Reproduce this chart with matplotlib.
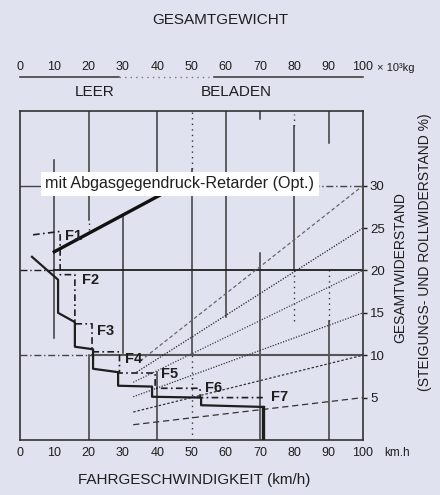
import matplotlib
matplotlib.use("Agg")
import matplotlib.pyplot as plt
import matplotlib.transforms as mtransforms

plt.rcParams['font.family'] = ['Liberation Sans', 'DejaVu Sans']

# axes ticks
speed_ticks = [0, 10, 20, 30, 40, 50, 60, 70, 80, 90, 100]
weight_ticks = [0, 10, 20, 30, 40, 50, 60, 70, 80, 90, 100]
grade_ticks = [5, 10, 15, 20, 25, 30]

# grade resistance lines: start point (v, g) -> end at v=100
grade_end = [30, 25, 20, 15, 10, 5]
grade_start_v = [35, 34, 33, 33, 33, 33]
grade_start_g = [9.3, 8.0, 6.8, 5.1, 3.3, 1.8]

# main tractive curve (solid staircase)
main_v = [3.5, 11.1, 11.1, 16.0, 16.0, 21.3, 21.3, 28.6, 28.6, 38.5, 38.5, 52.8, 52.8, 70.8, 70.8]
main_g = [21.6, 18.9, 15.0, 13.9, 11.0, 10.7, 8.4, 8.0, 6.4, 6.3, 5.1, 5.0, 4.1, 3.9, 0]

# gear shift curve (dash-dot staircase)
shift_v = [3.8, 11.7, 11.7, 16, 16, 21, 21, 29, 29, 39.4, 39.4, 52.5, 52.5, 70.8]
shift_g = [24.2, 24.6, 19.5, 19.5, 13.7, 13.7, 10.4, 10.4, 7.9, 7.9, 6.1, 6.1, 5.0, 5.0]

# retarder line
ret_v = [10, 46]
ret_g = [22.2, 30]

gear_labels = ['F1', 'F2', 'F3', 'F4', 'F5', 'F6', 'F7']
gear_v = [13.1, 18, 22.4, 30.6, 41.1, 54, 73.2]
gear_g = [24.0, 18.9, 12.8, 9.6, 7.8, 6.1, 5.1]

# weight lines (v, g_from, g_to)
solid_verts = [(10, 12, 33), (20, 26, 38.8), (20, 0, 10), (30, 10.3, 26.5),
               (40, 31.5, 38.8), (40, 0, 8), (50, 10, 32), (60, 14.5, 38.8),
               (70, 0, 22), (70, 37.8, 38.8), (80, 20, 37), (90, 0, 14),
               (90, 35, 38.8)]
dotted_verts = [(50, 32, 38.8), (50, 0, 10), (80, 14, 20), (90, 14, 20),
                (20, 24.8, 26), (80, 37, 38.5)]

bg = '#e0e2ef'
ink = '#1e1e1e'

fig = plt.figure(figsize=(4.4, 4.95), dpi=100, facecolor=bg)
ax = fig.add_axes([20/440, 55/495, 343/440, 329/495], facecolor=bg)
ax.set_xlim(0, 100)
ax.set_ylim(0, 38.8)

for v, g0, g1 in solid_verts:
    ax.plot([v, v], [g0, g1], color='#3a3a3a', lw=1.1, zorder=2)
for v, g0, g1 in dotted_verts:
    ax.plot([v, v], [g0, g1], color='#333333', lw=1.0, ls=(0, (1, 3)), zorder=2)

# horizontal lines
ax.plot([0, 10], [20, 20], color=ink, lw=1.0, ls=(0, (5, 2, 1, 2)))
ax.plot([10, 100], [20, 20], color=ink, lw=1.3)
ax.plot([0, 21], [10, 10], color='#444444', lw=1.0, ls=(0, (5, 2, 1, 2)))
ax.plot([21, 100], [10, 10], color='#555555', lw=1.5)
ax.plot([0, 8], [30, 30], color='#444444', lw=1.0)
ax.plot([85, 100], [30, 30], color='#444444', lw=1.0, ls=(0, (5, 2, 1, 2)))

styles = [(0, (3, 2)), (0, (1, 1.2)), (0, (1, 1.2)), (0, (1, 1.2)), (0, (2, 1.5)), (0, (5, 3))]
colors = ['#666666', '#222222', '#444444', '#333333', '#333333', '#333333']
for ge, sv, sg, st, c in zip(grade_end, grade_start_v, grade_start_g, styles, colors):
    ax.plot([sv, 100], [sg, ge], color=c, lw=0.9, ls=st, zorder=2)

ax.plot(main_v[:-1], main_g[:-1], color=ink, lw=1.6, zorder=4)
ax.plot(main_v[-2:], main_g[-2:], color=ink, lw=2.4, zorder=4)
ax.plot(shift_v, shift_g, color=ink, lw=1.2, ls=(0, (4, 2, 1, 2)), zorder=4)
ax.plot(ret_v, ret_g, color='#111111', lw=2.4, zorder=4)

for lab, v, g in zip(gear_labels, gear_v, gear_g):
    ax.text(v, g, lab, fontsize=10.5, fontweight='bold', color=ink,
            ha='left', va='center', zorder=6)

ax.text(7.4, 30.2, 'mit Abgasgegendruck-Retarder (Opt.)', fontsize=11.6, color=ink,
        ha='left', va='center', zorder=7,
        bbox=dict(facecolor='white', edgecolor='none', pad=3))

# axes styling
for s in ax.spines.values():
    s.set_color('#333333')
    s.set_linewidth(1.2)
ax.set_xticks(speed_ticks)
ax.tick_params(axis='x', length=0, pad=5, labelsize=9, colors=ink)
ax.yaxis.tick_right()
ax.set_yticks(grade_ticks)
ax.set_yticklabels([str(g) for g in grade_ticks])
ax.tick_params(axis='y', direction='out', length=3, width=1, pad=2,
               labelsize=9.5, colors=ink)

# top weight axis
top = ax.secondary_xaxis(1.116)
top.set_xticks(weight_ticks)
top.tick_params(length=0, pad=0, labelsize=9, colors=ink)
top.spines['top'].set_visible(False)
top.spines['bottom'].set_visible(False)

trans = mtransforms.blended_transform_factory(ax.transData, ax.transAxes)
ax.plot([0, 29], [1.103, 1.103], color='#333333', lw=1.1, transform=trans, clip_on=False)
ax.plot([29, 55], [1.103, 1.103], color='#777777', lw=1.0, ls=(0, (1, 3)),
        transform=trans, clip_on=False)
ax.plot([56.5, 100], [1.103, 1.103], color='#333333', lw=1.1, transform=trans, clip_on=False)
ax.text(21.9, 1.058, 'LEER', fontsize=11, color=ink, ha='center', va='center', transform=trans)
ax.text(63, 1.058, 'BELADEN', fontsize=11, color=ink, ha='center', va='center', transform=trans)
ax.text(104, 1.131, '× 10³kg', fontsize=8, color=ink, ha='left', va='center', transform=trans)
ax.text(106.3, -0.04, 'km.h', fontsize=8.5, color=ink, ha='left', va='center', transform=trans)

fig.text(0.5, 1 - 20/495, 'GESAMTGEWICHT', fontsize=11, color=ink, ha='center', va='center')
fig.text(194/440, 1 - 480/495, 'FAHRGESCHWINDIGKEIT (km/h)', fontsize=11, color=ink,
         ha='center', va='center')
fig.text(400/440, 1 - 268/495, 'GESAMTWIDERSTAND', fontsize=10, color=ink,
         rotation=90, ha='center', va='center')
fig.text(425/440, 1 - 252/495, '(STEIGUNGS- UND ROLLWIDERSTAND %)', fontsize=10, color=ink,
         rotation=90, ha='center', va='center')

fig.savefig('out.png', dpi=100, facecolor=bg)
